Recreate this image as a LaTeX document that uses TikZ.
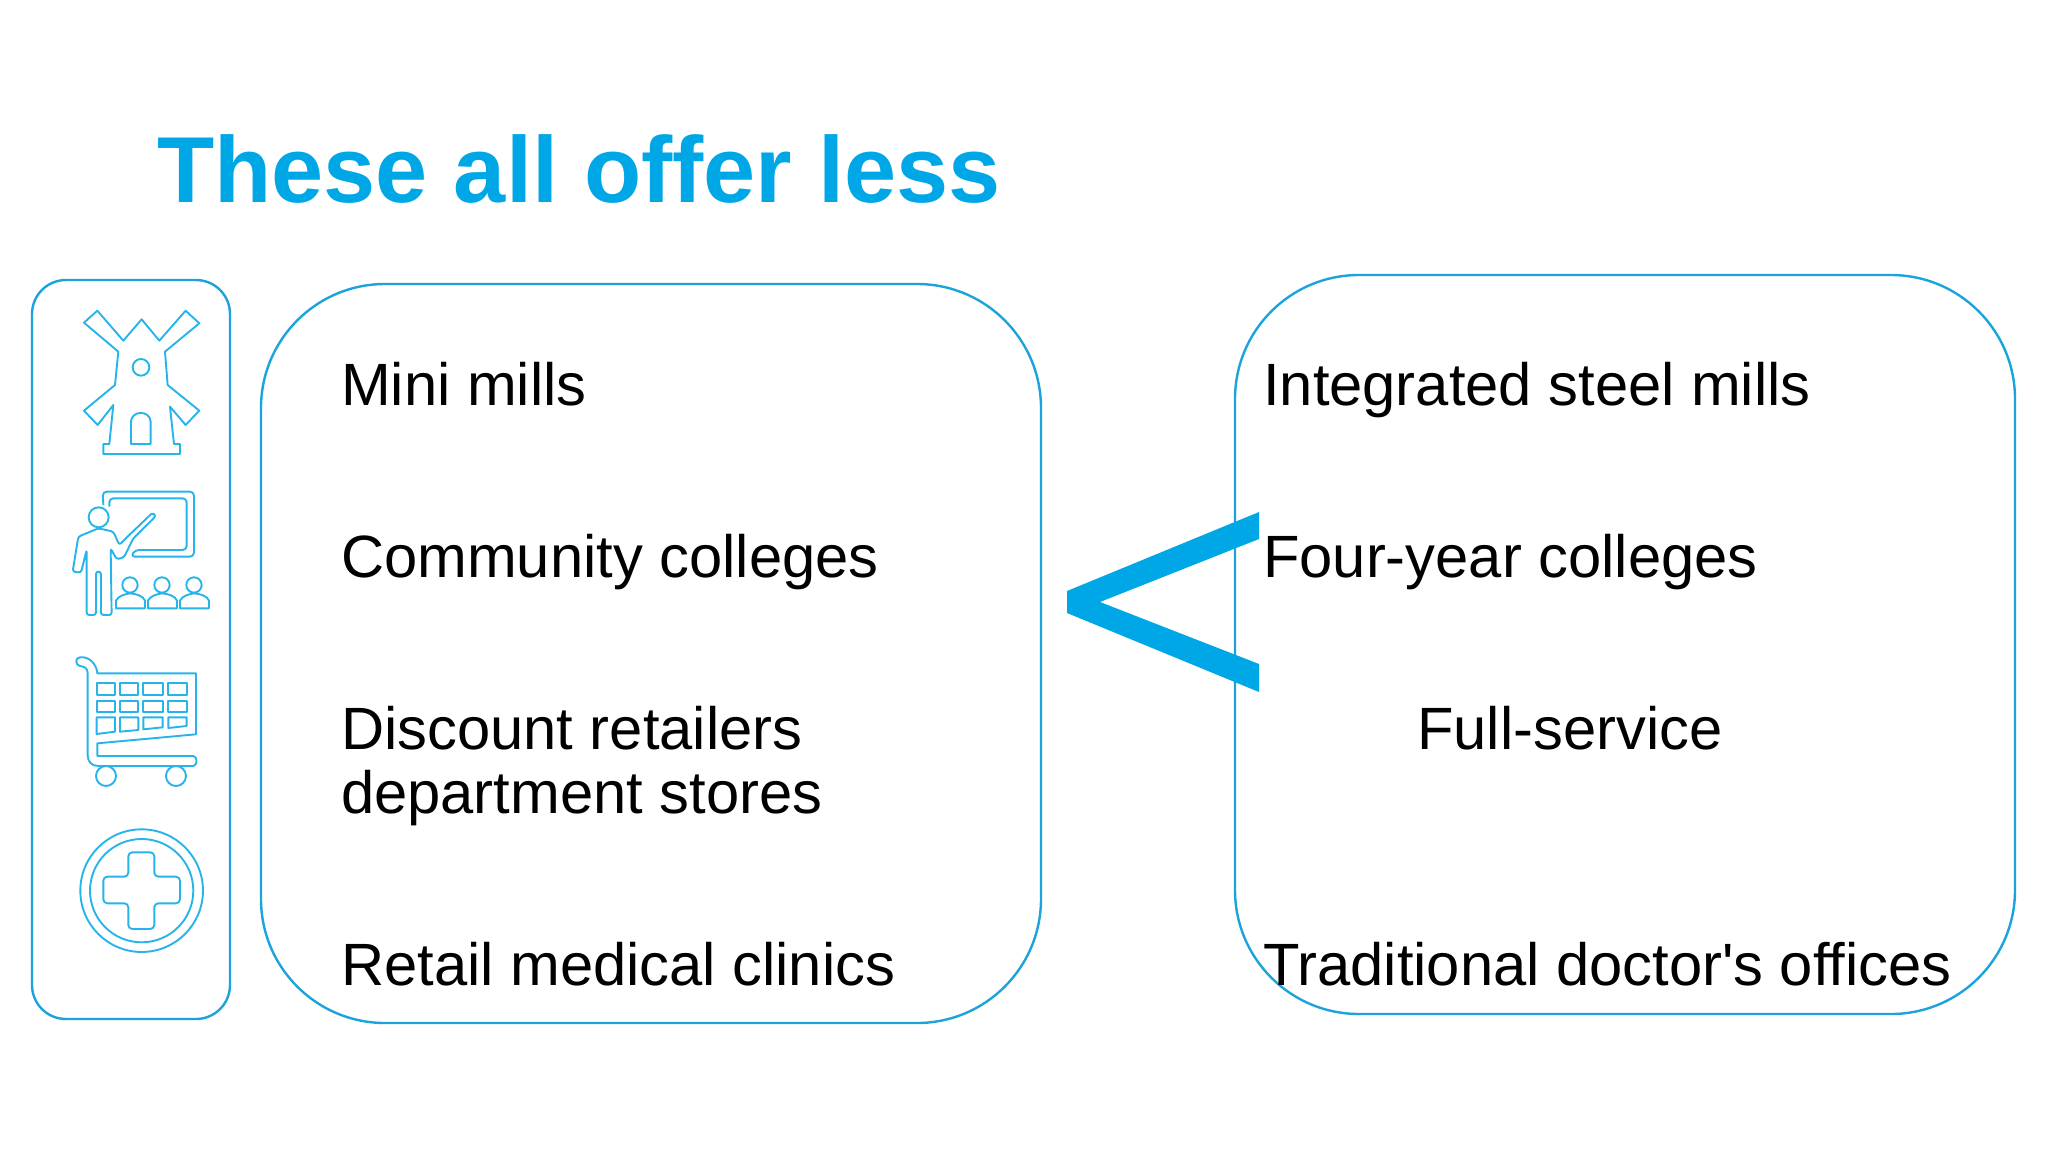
\documentclass[tikz,border=0pt]{standalone}
\usepackage{fontspec}
\setmainfont[Ligatures=TeXOff]{Liberation Sans}
\definecolor{skyblue}{HTML}{00A7E6}
\definecolor{edgeblue}{HTML}{1CA3DC}
\tikzset{
	panel/.style={draw=edgeblue,line width=2.4pt,rounded corners=#1,inner sep=0pt},
	item/.style={anchor=base west,inner sep=0pt,font=\fontsize{59.7}{65}\selectfont,text=black},
	icon/.style={draw=skyblue!85,line width=1.9pt,line join=round}
}
\begin{document}
\begin{tikzpicture}[x=1pt,y=-1pt]
\useasboundingbox (0,0) rectangle (2048,1152);
\node (iconbox) at (131,649.5) [panel=34pt,minimum width=198pt,minimum height=739pt] {};
\node (lowbox) at (651,653.5) [panel=124pt,minimum width=780pt,minimum height=739pt] {};
\node (highbox) at (1625,644.5) [panel=124pt,minimum width=780pt,minimum height=739pt] {};
\node (title) at (157,202.5) [anchor=base west,inner sep=0pt,text=skyblue,font=\fontsize{93.7}{100}\selectfont\bfseries] {These all offer less};
\fill[skyblue] (1259,512) -- (1259,539) -- (1100,602) -- (1259,664) -- (1259,692)
	-- (1067,613) -- (1067,591) -- cycle;
% left column
\node (mills) at (341,405) [item] {Mini mills};
\node (colleges) at (341,577) [item] {Community colleges};
\node (retailers) at (341,749) [item] {Discount retailers};
\node (stores) at (341,813) [item] {department stores};
\node (clinics) at (341,985) [item] {Retail medical clinics};
% right column
\node (steel) at (1263,405) [item] {Integrated steel mills};
\node (fouryear) at (1263,577) [item] {Four-year colleges};
\node (service) at (1417,749) [item] {Full-service};
\node (doctors) at (1263,985) [item] {Traditional doctor's offices};
% windmill and teacher
\begin{scope}[shift={(20,270)},scale=0.3333]
\draw[icon] (365,148) -- (418,212) -- (497,122) -- (538,160) -- (435,245) -- (443,345)
	-- (538,422) -- (497,465) -- (450,410) -- (462,522) -- (480,522) -- (480,552)
	-- (250,552) -- (250,522) -- (268,522) -- (280,405) -- (233,465) -- (192,422)
	-- (285,345) -- (295,245) -- (192,158) -- (232,122) -- (310,212) -- cycle;
\draw[icon] (363,292) circle[radius=25];
\draw[icon] (333,522) -- (333,455) .. controls (335,420) and (390,420) .. (392,455) -- (392,522) -- cycle;
\draw[icon,rounded corners=4pt] (250,705) -- (248,665) -- (522,665) -- (522,860) -- (332,860)
	-- (345,840) -- (500,840) -- (500,685) -- (268,685) -- (268,710);
\draw[icon] (236,742) circle[radius=30];
\draw[icon,rounded corners=2.5pt] (235,775) -- (280,785) -- (298,825) -- (330,793) -- (398,728)
	-- (408,738) -- (340,805) -- (312,862) -- (290,868) -- (272,835) -- (275,1035) -- (243,1035)
	-- (243,905) -- (228,905) -- (228,1035) -- (200,1035) -- (200,840) -- (183,908)
	-- (158,905) -- (175,800) -- cycle;
\foreach \xa in {0,96,192} {
	\draw[icon] (330+\xa,945) circle[radius=23];
	\draw[icon] (288+\xa,1015) -- (288+\xa,992) .. controls (295+\xa,978) and (315+\xa,972) .. (330+\xa,970)
		.. controls (350+\xa,972) and (370+\xa,978) .. (375+\xa,992) -- (375+\xa,1015) -- cycle;
}
\end{scope}
% cart and cross
\begin{scope}[shift={(20,640)},scale=0.3333]
\draw[icon] (180,52) .. controls (205,48) and (230,70) .. (232,100) -- (528,100) -- (528,283) -- (232,310)
	-- (232,348) -- (520,348) .. controls (533,350) and (533,376) .. (520,378) -- (235,378)
	.. controls (215,378) and (203,365) .. (203,345) -- (203,100) .. controls (203,85) and (195,80) .. (180,78)
	.. controls (165,75) and (165,53) .. (180,52) -- cycle;
\foreach \xa/\xb in {230/285,300/355,370/428,445/500} {
	\draw[icon] (\xa,130) rectangle (\xb,165);
	\draw[icon] (\xa,182) rectangle (\xb,215);
}
\draw[icon] (230,232) -- (285,232) -- (285,275) -- (230,282) -- cycle;
\draw[icon] (300,232) -- (355,232) -- (355,270) -- (300,275) -- cycle;
\draw[icon] (370,232) -- (428,232) -- (428,262) -- (370,268) -- cycle;
\draw[icon] (445,232) -- (500,232) -- (500,258) -- (445,264) -- cycle;
\draw[icon] (258,408) circle[radius=30];
\draw[icon] (468,408) circle[radius=30];
\draw[icon] (365,752) circle[radius=184];
\draw[icon] (365,752) circle[radius=155];
\draw[icon,rounded corners=4pt] (325,637) -- (403,637) -- (403,710) -- (480,710) -- (480,790)
	-- (403,790) -- (403,867) -- (325,867) -- (325,790) -- (250,790) -- (250,710) -- (325,710) -- cycle;
\end{scope}
\end{tikzpicture}
\end{document}
